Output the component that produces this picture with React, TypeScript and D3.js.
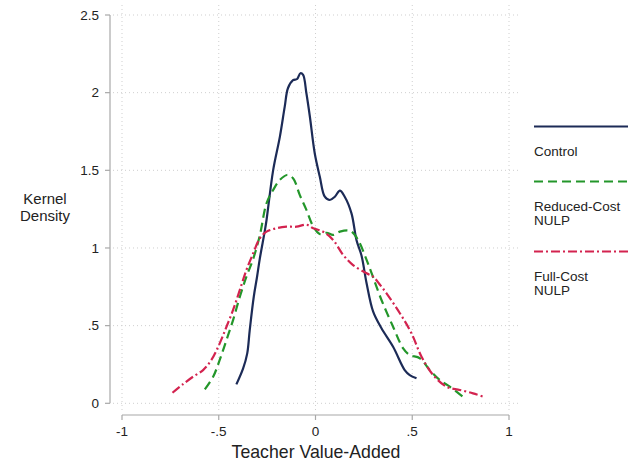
import React from "react";
import * as d3 from "d3";

// Kernel density estimates of teacher value-added, by treatment arm
const controlX = [-0.409, -0.374, -0.353, -0.34, -0.319, -0.302, -0.288, -0.262, -0.253, -0.219, -0.184, -0.159, -0.142, -0.116, -0.095, -0.078, -0.064, -0.047, -0.029, -0.004, 0.022, 0.048, 0.074, 0.1, 0.126, 0.151, 0.186, 0.212, 0.238, 0.264, 0.298, 0.341, 0.401, 0.461, 0.487, 0.522];
const controlY = [0.122, 0.225, 0.32, 0.47, 0.686, 0.815, 0.93, 1.11, 1.18, 1.5, 1.717, 1.91, 2.03, 2.08, 2.088, 2.125, 2.114, 1.996, 1.845, 1.61, 1.46, 1.33, 1.309, 1.33, 1.369, 1.33, 1.223, 1.05, 0.95, 0.773, 0.59, 0.483, 0.364, 0.214, 0.182, 0.161];

const reducedX = [-0.572, -0.529, -0.495, -0.46, -0.426, -0.391, -0.357, -0.322, -0.288, -0.253, -0.219, -0.184, -0.147, -0.116, -0.081, -0.047, -0.012, 0.022, 0.057, 0.091, 0.126, 0.177, 0.203, 0.229, 0.264, 0.298, 0.341, 0.401, 0.453, 0.487, 0.539, 0.591, 0.642, 0.694, 0.772];
const reducedY = [0.09, 0.171, 0.279, 0.408, 0.536, 0.686, 0.815, 0.93, 1.08, 1.288, 1.373, 1.438, 1.47, 1.449, 1.34, 1.245, 1.14, 1.09, 1.098, 1.084, 1.105, 1.111, 1.084, 1.03, 0.923, 0.81, 0.665, 0.493, 0.354, 0.311, 0.29, 0.214, 0.15, 0.107, 0.032];

const fullX = [-0.739, -0.684, -0.633, -0.581, -0.538, -0.495, -0.46, -0.426, -0.391, -0.357, -0.322, -0.288, -0.253, -0.202, -0.15, -0.098, -0.047, -0.012, 0.039, 0.091, 0.143, 0.194, 0.264, 0.298, 0.332, 0.367, 0.436, 0.496, 0.548, 0.608, 0.677, 0.746, 0.814, 0.866];
const fullY = [0.068, 0.124, 0.171, 0.214, 0.279, 0.386, 0.493, 0.601, 0.73, 0.858, 0.966, 1.062, 1.105, 1.127, 1.137, 1.137, 1.15, 1.127, 1.105, 1.052, 0.955, 0.89, 0.837, 0.815, 0.765, 0.708, 0.58, 0.451, 0.3, 0.182, 0.107, 0.086, 0.064, 0.043];

const xTicks = [-1, -0.5, 0, 0.5, 1];
const xTickLabels = ["-1", "-.5", "0", ".5", "1"];
const yTicks = [0, 0.5, 1, 1.5, 2, 2.5];
const yTickLabels = ["0", ".5", "1", "1.5", "2", "2.5"];

const seriesNames = [["Control"], ["Reduced-Cost", "NULP"], ["Full-Cost", "NULP"]];
const seriesColors = ["#1c2b57", "#23962a", "#d3234f"];
const seriesDash = ["none", "9 5", "9 3 2 3"];

const W = 628;
const H = 461;
const FONT = "'Liberation Sans', Arial, Helvetica, sans-serif";

export default function App() {
  const x = d3.scaleLinear().domain([-1, 1]).range([122, 509]);
  const y = d3.scaleLinear().domain([0, 2.5]).range([403.3, 15]);

  const series = [
    d3.zip(controlX, controlY),
    d3.zip(reducedX, reducedY),
    d3.zip(fullX, fullY),
  ] as [number, number][][];

  const line = d3
    .line<[number, number]>()
    .x((d) => x(d[0]))
    .y((d) => y(d[1]))
    .curve(d3.curveCatmullRom.alpha(0.5));

  const gridLeft = 113;
  const gridRight = 518;
  const gridTop = 5;
  const gridBottom = 411;
  const xAxisY = 415;
  const yAxisX = 110;

  const legendX = 534;
  const legendRows = [126.5, 181.5, 251.5];

  return (
    <svg
      width={W}
      height={H}
      style={{ position: "absolute", left: 0, top: 0, background: "#fff" }}
      fontFamily={FONT}
    >
      <rect x={0} y={0} width={W} height={H} fill="#fff" />

      {/* dotted grid */}
      {yTicks.map((t) => (
        <line
          key={"gy" + t}
          x1={gridLeft}
          x2={gridRight}
          y1={y(t)}
          y2={y(t)}
          stroke="#cfcfcf"
          strokeWidth={1}
          strokeDasharray="1 3"
        />
      ))}
      {xTicks.map((t) => (
        <line
          key={"gx" + t}
          x1={x(t)}
          x2={x(t)}
          y1={gridTop}
          y2={gridBottom}
          stroke="#cfcfcf"
          strokeWidth={1}
          strokeDasharray="1 3"
        />
      ))}

      {/* y axis */}
      <line x1={yAxisX} x2={yAxisX} y1={y(2.5)} y2={y(0)} stroke="#a8a8a8" strokeWidth={1.2} />
      {yTicks.map((t, i) => (
        <g key={"yt" + t}>
          <line x1={yAxisX - 5} x2={yAxisX} y1={y(t)} y2={y(t)} stroke="#a8a8a8" strokeWidth={1.2} />
          <text
            x={yAxisX - 11}
            y={y(t)}
            dy="0.35em"
            textAnchor="end"
            fontSize={13.5}
            fill="#222"
          >
            {yTickLabels[i]}
          </text>
        </g>
      ))}

      {/* x axis */}
      <line x1={x(-1)} x2={x(1)} y1={xAxisY} y2={xAxisY} stroke="#a8a8a8" strokeWidth={1.2} />
      {xTicks.map((t, i) => (
        <g key={"xt" + t}>
          <line x1={x(t)} x2={x(t)} y1={xAxisY} y2={xAxisY + 5} stroke="#a8a8a8" strokeWidth={1.2} />
          <text
            x={x(t)}
            y={431}
            dy="0.35em"
            textAnchor="middle"
            fontSize={13.5}
            fill="#222"
          >
            {xTickLabels[i]}
          </text>
        </g>
      ))}

      {/* axis titles */}
      <text x={316} y={452} dy="0.35em" textAnchor="middle" fontSize={17.7} fill="#222">
        Teacher Value-Added
      </text>
      <text x={45} y={199} dy="0.35em" textAnchor="middle" fontSize={15} fill="#222">
        Kernel
      </text>
      <text x={45} y={216} dy="0.35em" textAnchor="middle" fontSize={15} fill="#222">
        Density
      </text>

      {/* density curves */}
      {series.map((pts, i) => (
        <path
          key={"s" + i}
          d={line(pts) || ""}
          fill="none"
          stroke={seriesColors[i]}
          strokeWidth={2.2}
          strokeDasharray={seriesDash[i]}
          strokeLinejoin="round"
        />
      ))}

      {/* legend */}
      {seriesNames.map((names, i) => (
        <g key={"lg" + i}>
          <line
            x1={legendX}
            x2={W + 5}
            y1={legendRows[i]}
            y2={legendRows[i]}
            stroke={seriesColors[i]}
            strokeWidth={2.2}
            strokeDasharray={seriesDash[i]}
          />
          {names.map((n, j) => (
            <text
              key={n + j}
              x={legendX}
              y={legendRows[i] + 25 + j * 13.5}
              dy="0.35em"
              fontSize={13.5}
              fill="#222"
            >
              {n}
            </text>
          ))}
        </g>
      ))}
    </svg>
  );
}
